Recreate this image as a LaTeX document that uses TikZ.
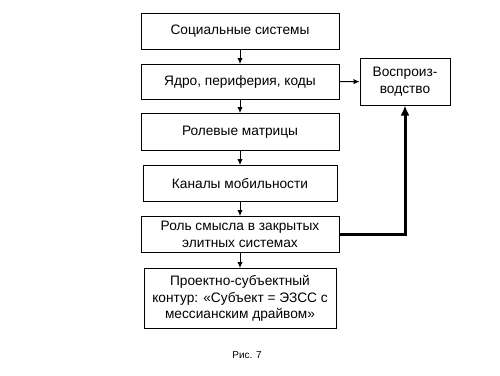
\documentclass[tikz,border=0pt]{standalone}
\usepackage{fontspec}
\setmainfont{Liberation Sans}
\usetikzlibrary{arrows.meta,positioning}

\begin{document}
\begin{tikzpicture}[
  x=1pt, y=-1pt,
  font=\fontsize{13.7}{16.5}\selectfont,
  box/.style={draw, line width=1pt, minimum width=#1, minimum height=36pt, align=center, inner sep=2pt},
  box/.default=198pt,
  arr/.style={-{Latex[length=6pt,width=5.5pt]}, line width=1pt},
  node distance=14pt
]
\useasboundingbox (0,0) rectangle (500,375);

\node[box] (soc) at (240,31.5) {Социальные системы};
\node[box, below=of soc, minimum height=35pt] (core) {Ядро, периферия, коды};
\node[box, below=13pt of core, minimum height=37pt] (roles) {Ролевые матрицы};
\node[box=194pt, below=of roles] (mob) {Каналы мобильности};
\node[box, below=of mob] (sense) {Роль смысла в закрытых\\элитных системах};
\node[box=192pt, below=15pt of sense, minimum height=60pt] (proj) {Проектно-субъектный\\контур: «Субъект = ЭЗСС с\\мессианским драйвом»};

\node[box=90pt, minimum height=47pt] (repro) at (405,81.5) {Воспроиз-\\водство};

\draw[arr] (soc) -- (core);
\draw[arr] (core) -- (roles);
\draw[arr] (roles) -- (mob);
\draw[arr] (mob) -- (sense);
\draw[arr] (sense) -- (proj);
\draw[arr] (core) -- (repro);
\draw[-{Latex[length=10pt,width=9pt]}, line width=3pt] (sense.east) -| (repro.south);

\node[font=\fontsize{10}{12}\selectfont] (cap) at (247,355) {Рис. 7};
\end{tikzpicture}
\end{document}
